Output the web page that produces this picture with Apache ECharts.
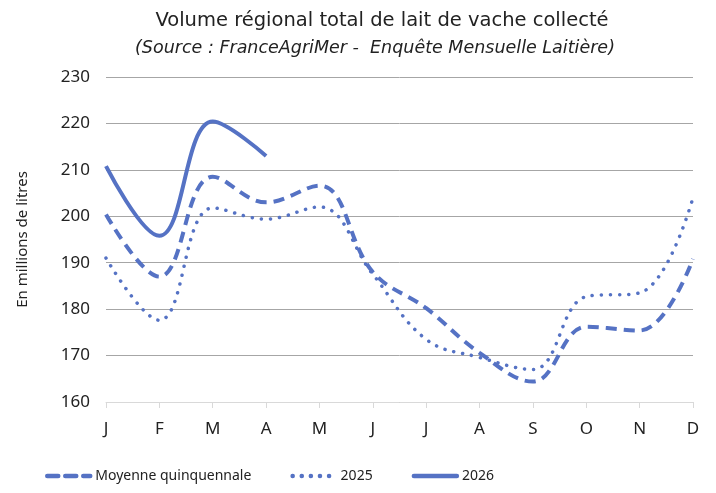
<!DOCTYPE html>
<html>
<head>
<meta charset="utf-8">
<script src="https://cdn.jsdelivr.net/npm/echarts@6/dist/echarts.min.js"></script>
<style>
  html, body { margin: 0; padding: 0; background: #fff; }
  #chart { width: 716px; height: 493px; }
</style>
</head>
<body>
<div id="chart"></div>
<script>
// données (millions de litres)
const months = ['J', 'F', 'M', 'A', 'M', 'J', 'J', 'A', 'S', 'O', 'N', 'D']
const moyenne = [200.4, 187, 208.5, 203, 206.6, 188, 180.2, 170.6, 164.4, 176.2, 175.4, 190.8]
const an2025 = [191, 177.6, 201.8, 199.4, 202, 187.5, 173.5, 169.6, 167, 182.7, 183.5, 204]
const an2026 = [210.8, 195.8, 220.4, 213]

const color = '#5572C4'
const font = 'Noto Sans'
const titleFont = 'DejaVu Sans'

const chart = echarts.init(document.getElementById('chart'))

chart.setOption({
  animation: false,
  textStyle: { fontFamily: font },
  title: [
    {
      text: 'Volume régional total de lait de vache collecté',
      left: 377,
      textAlign: 'center',
      top: 6,
      textStyle: { fontFamily: titleFont, fontSize: 19.5, fontWeight: 'normal', color: '#222' }
    },
    {
      text: '(Source : FranceAgriMer -  Enquête Mensuelle Laitière)',
      left: 370,
      textAlign: 'center',
      top: 34,
      textStyle: { fontFamily: titleFont, fontSize: 17.5, fontWeight: 'normal', fontStyle: 'italic', color: '#222' }
    }
  ],
  grid: { left: 106, right: 23, top: 77, bottom: 91 },
  legend: {
    left: 40,
    top: 464,
    itemWidth: 43,
    itemHeight: 14,
    itemGap: 39,
    itemStyle: { opacity: 0 },
    lineStyle: { width: 4.5, cap: 'round' },
    textStyle: { fontFamily: font, fontSize: 14, color: '#222' },
    data: ['Moyenne quinquennale', '2025', '2026']
  },
  xAxis: {
    type: 'category',
    data: months,
    boundaryGap: false,
    axisLine: { lineStyle: { color: '#d9d9d9', width: 1 } },
    axisTick: { show: true, length: 6, lineStyle: { color: '#d9d9d9' } },
    axisLabel: { color: '#222', fontSize: 17, margin: 19 }
  },
  yAxis: {
    type: 'value',
    min: 160,
    max: 230,
    interval: 10,
    name: 'En millions de litres',
    nameLocation: 'middle',
    nameGap: 76,
    nameTextStyle: { fontFamily: font, fontSize: 15, color: '#222' },
    axisLine: { show: false },
    axisTick: { show: false },
    axisLabel: { color: '#222', fontSize: 17, margin: 16 },
    splitLine: { lineStyle: { color: '#a6a6a6', width: 1 } }
  },
  series: [
    {
      name: 'Moyenne quinquennale',
      type: 'line',
      data: moyenne,
      smooth: 0.4,
      symbol: 'none',
      itemStyle: { color: color },
      lineStyle: { color: color, width: 4, type: [11, 7] }
    },
    {
      name: '2025',
      type: 'line',
      data: an2025,
      smooth: 0.4,
      symbol: 'none',
      itemStyle: { color: color },
      lineStyle: { color: color, width: 3.5, type: [0.1, 9], cap: 'round' }
    },
    {
      name: '2026',
      type: 'line',
      data: an2026,
      smooth: 0.4,
      symbol: 'none',
      itemStyle: { color: color },
      lineStyle: { color: color, width: 4 }
    }
  ]
})
</script>
</body>
</html>
